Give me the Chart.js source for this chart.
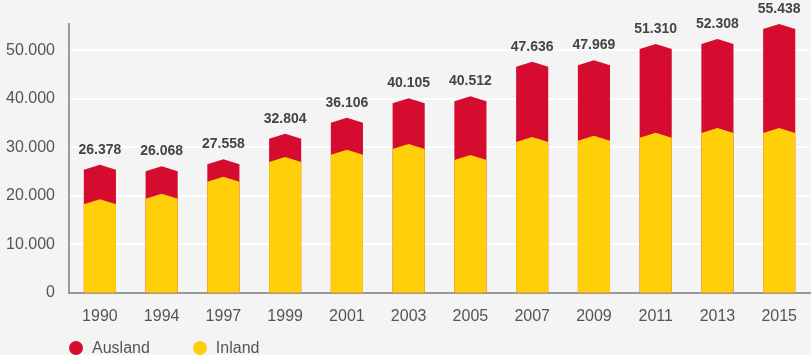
<!DOCTYPE html>
<html>
<head>
<meta charset="utf-8">
<script src="https://cdn.jsdelivr.net/npm/chart.js@4"></script>
<style>
  html, body { margin: 0; padding: 0; background: #f4f4f4; overflow: hidden; }
  #wrap { position: relative; width: 811px; height: 355px; }
  #chart { position: absolute; left: 0; top: 0; }
  .legend { position: absolute; left: 69px; top: 339px; display: flex;
            font: 16px "Liberation Sans", Arial, sans-serif; color: #555; line-height: 18px; }
  .legend .item { display: flex; align-items: center; margin-right: 43px; }
  .legend .dot { width: 14px; height: 14px; border-radius: 50%; margin-right: 9px; }
</style>
</head>
<body>
<div id="wrap">
  <canvas id="chart" width="811" height="340"></canvas>
  <div class="legend" id="legend"></div>
</div>
<script>
// values
const years = ['1990', '1994', '1997', '1999', '2001', '2003', '2005', '2007', '2009', '2011', '2013', '2015'];
const totals = [26378, 26068, 27558, 32804, 36106, 40105, 40512, 47636, 47969, 51310, 52308, 55438];
const inland = [19300, 20400, 23900, 28000, 29500, 30700, 28400, 32100, 32400, 33000, 34000, 34000];
const ausland = [7078, 5668, 3658, 4804, 6606, 9405, 12112, 15536, 15569, 18310, 18308, 21438];
const yTicks = [0, 10000, 20000, 30000, 40000, 50000];

const red = '#d50c30';
const yellow = '#ffd00a';

const fmt = v => String(v).replace(/\B(?=(\d{3})+(?!\d))/g, '.');

Chart.defaults.font.family = '"Liberation Sans", Arial, sans-serif';

// bars with a pointed top, drawn from the bar elements the library lays out
const chevronBars = {
  id: 'chevronBars',
  beforeDatasetDraw() { return false; },
  afterDatasetsDraw(chart) {
    const ctx = chart.ctx;
    const base = chart.scales.y.getPixelForValue(0);
    const tip = 5;
    for (let i = chart.data.datasets.length - 1; i >= 0; i--) {
      const meta = chart.getDatasetMeta(i);
      ctx.fillStyle = chart.data.datasets[i].backgroundColor;
      meta.data.forEach(bar => {
        const half = bar.width / 2;
        ctx.beginPath();
        ctx.moveTo(bar.x - half, base);
        ctx.lineTo(bar.x - half, bar.y + tip);
        ctx.lineTo(bar.x, bar.y);
        ctx.lineTo(bar.x + half, bar.y + tip);
        ctx.lineTo(bar.x + half, base);
        ctx.closePath();
        ctx.fill();
      });
    }
    // totals above each stack
    const topMeta = chart.getDatasetMeta(chart.data.datasets.length - 1);
    ctx.save();
    ctx.fillStyle = '#444';
    ctx.font = 'bold 14px "Liberation Sans", Arial, sans-serif';
    ctx.textAlign = 'center';
    ctx.textBaseline = 'alphabetic';
    topMeta.data.forEach((bar, k) => {
      ctx.fillText(fmt(totals[k]), bar.x, bar.y - 11);
    });
    ctx.restore();
  }
};

const chart = new Chart(document.getElementById('chart'), {
  type: 'bar',
  data: {
    labels: years,
    datasets: [
      { label: 'Inland', data: inland, backgroundColor: yellow },
      { label: 'Ausland', data: ausland, backgroundColor: red }
    ]
  },
  options: {
    responsive: false,
    animation: false,
    categoryPercentage: 1,
    barPercentage: 0.52,
    layout: { padding: { top: 22, left: 6, right: 0, bottom: 0 } },
    plugins: { legend: { display: false }, tooltip: { enabled: false } },
    scales: {
      x: {
        stacked: true,
        grid: { display: false, drawTicks: false },
        border: { color: '#9a9a9a', width: 2 },
        ticks: { color: '#555', font: { size: 16 }, padding: 14 }
      },
      y: {
        stacked: true,
        min: 0,
        max: 55500,
        afterFit: s => { s.width = 63; },
        afterBuildTicks: s => { s.ticks = yTicks.map(v => ({ value: v })); },
        grid: { color: '#ffffff', lineWidth: 2, drawTicks: false },
        border: { color: '#9a9a9a', width: 2 },
        ticks: {
          color: '#555',
          font: { size: 16 },
          padding: 14,
          callback: v => fmt(v)
        }
      }
    }
  },
  plugins: [chevronBars]
});

// legend, Ausland first like the original
const legend = document.getElementById('legend');
[chart.data.datasets[1], chart.data.datasets[0]].forEach(ds => {
  const item = document.createElement('div');
  item.className = 'item';
  const dot = document.createElement('span');
  dot.className = 'dot';
  dot.style.background = ds.backgroundColor;
  const txt = document.createElement('span');
  txt.textContent = ds.label;
  item.appendChild(dot);
  item.appendChild(txt);
  legend.appendChild(item);
});
</script>
</body>
</html>
